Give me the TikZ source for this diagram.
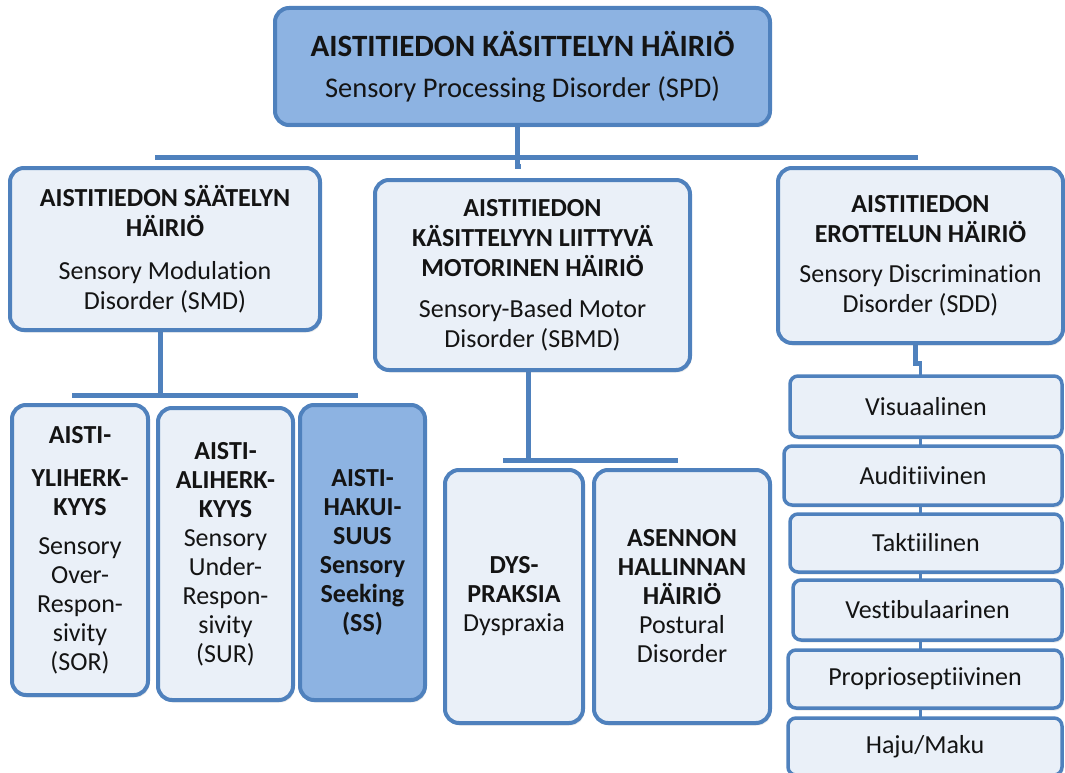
\documentclass[tikz,border=0pt]{standalone}
\usepackage{fontspec}
\setmainfont{Carlito}[Ligatures=NoCommon]
\usetikzlibrary{shadows}
\definecolor{bord}{HTML}{4F81BD}
\definecolor{lfill}{HTML}{EAF0F8}
\definecolor{dfill}{HTML}{8DB3E2}
\definecolor{txt}{HTML}{141414}
\pgfdeclarelayer{bg}
\pgfsetlayers{bg,main}
\begin{document}
\begin{tikzpicture}[x=1pt,y=-1pt,
  box/.style={draw=bord, line width=4pt, fill=lfill, rounded corners=14pt, align=center, inner sep=0pt, text=txt,
    drop shadow={opacity=0.18, shadow xshift=1.5pt, shadow yshift=-2.5pt}},
  dbox/.style={box, fill=dfill},
  sbox/.style={box, rounded corners=8pt, line width=3.5pt},
  conn/.style={draw=bord, line width=5pt},
  ftwo/.style={font=\fontsize{26}{30}\selectfont},
  fthree/.style={font=\fontsize{26}{29}\selectfont},
  fthreeb/.style={font=\bfseries\fontsize{26}{29}\selectfont}]
\useasboundingbox (0,0) rectangle (1065,773);

% top
\node[dbox, minimum width=495pt, minimum height=117pt, font=\fontsize{28.5}{41}\selectfont] (top) at (522.5,66.5)
  {{\fontsize{31}{36}\selectfont\bfseries AISTITIEDON KÄSITTELYN HÄIRIÖ}\\Sensory Processing Disorder (SPD)};

% level 2
\node[box, ftwo, minimum width=310pt, minimum height=162pt] (smd) at (165,249)
  {\textbf{AISTITIEDON SÄÄTELYN}\\\textbf{HÄIRIÖ}\\[13pt]Sensory Modulation\\Disorder (SMD)};
\node[box, ftwo, minimum width=315pt, minimum height=190pt] (sbmd) at (532.5,275)
  {\textbf{AISTITIEDON}\\\textbf{KÄSITTELYYN LIITTYVÄ}\\\textbf{MOTORINEN HÄIRIÖ}\\[11pt]Sensory-Based Motor\\Disorder (SBMD)};
\node[box, ftwo, minimum width=285pt, minimum height=175pt] (sdd) at (920.5,255.5)
  {\textbf{AISTITIEDON}\\\textbf{EROTTELUN HÄIRIÖ}\\[10pt]Sensory Discrimination\\Disorder (SDD)};

% level 3 left
\node[box, fthree, minimum width=136pt, minimum height=290pt] (sor) at (80,550)
  {\textbf{AISTI-}\\[14pt]\textbf{YLIHERK-}\\\textbf{KYYS}\\[10pt]Sensory\\Over-\\Respon-\\sivity\\(SOR)};
\node[box, fthree, minimum width=135pt, minimum height=292pt] (sur) at (225.5,554)
  {\textbf{AISTI-}\\\textbf{ALIHERK-}\\\textbf{KYYS}\\Sensory\\Under-\\Respon-\\sivity\\(SUR)};
\node[dbox, fthreeb, minimum width=125pt, minimum height=295pt] (ss) at (362.5,552.5)
  {AISTI-\\HAKUI-\\SUUS\\Sensory\\Seeking\\(SS)};

% level 3 middle
\node[box, fthree, minimum width=138pt, minimum height=253pt] (dys) at (514,596.5)
  {\textbf{DYS-}\\\textbf{PRAKSIA}\\Dyspraxia};
\node[box, fthree, minimum width=176pt, minimum height=253pt] (pos) at (682,596.5)
  {\textbf{ASENNON}\\\textbf{HALLINNAN}\\\textbf{HÄIRIÖ}\\Postural\\Disorder};

% right list
\node[sbox, ftwo, minimum width=272pt, minimum height=61pt] (vis) at (926,406.5) {Visuaalinen};
\node[sbox, ftwo, minimum width=278pt, minimum height=59pt] (aud) at (923,475.5) {Auditiivinen};
\node[sbox, ftwo, minimum width=272pt, minimum height=58pt] (tak) at (926,543) {Taktiilinen};
\node[sbox, ftwo, minimum width=269pt, minimum height=60pt] (ves) at (927.5,610) {Vestibulaarinen};
\node[sbox, ftwo, minimum width=274pt, minimum height=58pt] (pro) at (925,679) {Proprioseptiivinen};
\node[sbox, ftwo, minimum width=274pt, minimum height=57pt] (haju) at (925,746.5) {Haju/Maku};

% connectors
\coordinate (b1l) at (155,157);
\coordinate (b1r) at (918,157);
\coordinate (j1) at (517,157);
\coordinate (j2) at (160,395);
\coordinate (b2l) at (72,395);
\coordinate (b2r) at (358,395);
\coordinate (j3) at (528,460);
\coordinate (b3l) at (503,460);
\coordinate (b3r) at (678,460);
\coordinate (j4) at (915,363);
\coordinate (j5) at (920,363);
\coordinate (j6) at (920,773);
\begin{pgfonlayer}{bg}
\draw[conn] (b1l) -- (b1r);
\draw[conn] (top.south -| j1) -- (j1) -- ++(0,9) -- ++(4,0);
\draw[conn] (smd.south -| j2) -- (j2);
\draw[conn] (b2l) -- (b2r);
\draw[conn] (sbmd.south -| j3) -- (j3);
\draw[conn] (b3l) -- (b3r);
\draw[conn] (sdd.south -| j4) -- (j4) -- ++(7,0);
\draw[conn, line width=3pt] (j5) -- (j6);
\end{pgfonlayer}
\end{tikzpicture}
\end{document}
